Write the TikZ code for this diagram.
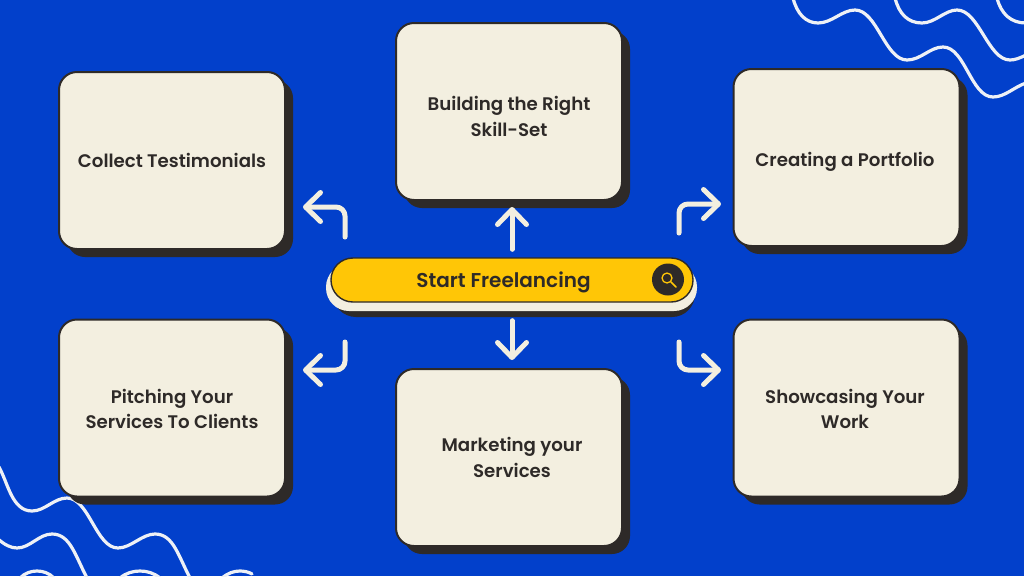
\documentclass[tikz,border=0pt]{standalone}
\usepackage{fontspec}
\setmainfont{Poppins}[BoldFont={Poppins SemiBold}]
\usetikzlibrary{arrows.meta,shadows}
\definecolor{bgblue}{HTML}{0240CB}
\definecolor{cream}{HTML}{F3EFE0}
\definecolor{ink}{HTML}{2E2A28}
\definecolor{gold}{HTML}{FFC606}
\definecolor{wave}{HTML}{EEF1F6}
\tikzset{
  card/.style={draw=ink,line width=2pt,fill=cream,rounded corners=18pt,
    minimum width=226pt,minimum height=177pt,inner sep=0pt,
    general shadow={fill=ink,shadow xshift=8pt,shadow yshift=-8pt}},
  cardtext/.style={text=ink,align=center,inner sep=0pt,font=\bfseries\fontsize{18.2}{25.5}\selectfont},
  flow/.style={draw=cream,line width=5pt,line cap=round,line join=round,rounded corners=9pt,
    -{Straight Barb[length=15pt,width=29pt,round,line width=5pt]}},
  squiggle/.style={draw=wave,line width=3.2pt,line cap=round},
  pill/.style={rounded corners=23pt},
}
\begin{document}
\begin{tikzpicture}[x=1pt,y=-1pt]
\useasboundingbox (0,0) rectangle (1024,576);
\fill[bgblue] (0,0) rectangle (1024,576);
% waves, upper right
\draw[squiggle] (793,-2) .. controls (797,14) and (806,23) .. (818,23) .. controls (832,23) and (842,10) .. (855,10) .. controls (877,10) and (885,60) .. (907,60) .. controls (921,60) and (930,47) .. (943,47) .. controls (965,47) and (971,97) .. (993,97) .. controls (1005,97) and (1014,87) .. (1026,83);
\draw[squiggle] (895,-2) .. controls (899,14) and (908,23) .. (922,23) .. controls (935,23) and (945,10) .. (957,10) .. controls (979,10) and (988,60) .. (1010,60) .. controls (1015,60) and (1020,58) .. (1026,55);
\draw[squiggle] (997,-2) .. controls (1001,14) and (1011,23) .. (1026,23);
% waves, lower left
\draw[squiggle] (-1,467) .. controls (8,483) and (12,511) .. (32,511) .. controls (45,511) and (54,498) .. (67,498) .. controls (89,498) and (96,548) .. (118,548) .. controls (131,548) and (142,534) .. (155,534) .. controls (173,534) and (178,555) .. (190,578);
\draw[squiggle] (-2,539) .. controls (5,545) and (11,548) .. (17,548) .. controls (30,548) and (39,534) .. (52,534) .. controls (70,534) and (75,555) .. (87,578);
\draw[squiggle] (20,578) .. controls (25,573) and (31,571) .. (37,571) .. controls (43,571) and (49,573) .. (54,578);
\draw[squiggle] (120,578) .. controls (126,573) and (133,571) .. (140,571) .. controls (147,571) and (154,573) .. (160,578);
\draw[squiggle] (222,578) .. controls (228,573) and (234,571) .. (240,571) .. controls (244,571) and (249,572) .. (252,574);
% cards
\node[card] (skill) at (509,111.5) {};
\node[card] (testi) at (172,160.5) {};
\node[card] (port) at (846.5,157.5) {};
\node[card] (pitch) at (172,408) {};
\node[card] (market) at (509,457.5) {};
\node[card] (show) at (846.5,408) {};
\node[cardtext] (skilltext) at (509,116.5) {Building the Right\\Skill-Set};
\node[cardtext] (testitext) at (172,160.5) {Collect Testimonials};
\node[cardtext] (porttext) at (845,162) {Creating a Portfolio};
\node[cardtext] (pitchtext) at (172,409) {Pitching Your\\Services To Clients};
\node[cardtext] (markettext) at (512,457.5) {Marketing your\\Services};
\node[cardtext] (showtext) at (845,409) {Showcasing Your\\Work};
% search bar
\fill[ink,pill] (333,271) rectangle (695,317);
\fill[cream,pill] (326,264) rectangle (697,311);
\node[draw=ink,line width=1.4pt,fill=gold,rounded corners=21.9pt,minimum width=362pt,minimum height=44pt,inner sep=0pt] (hub) at (512,280) {};
\node[text=ink,font=\bfseries\fontsize{20}{24}\selectfont,inner sep=0pt] (hubtext) at (503.5,282.5) {Start Freelancing};
\node[circle,fill=ink,minimum size=32pt,inner sep=0pt] (lens) at (668,279.5) {};
\draw[gold,line width=1.3pt] (667,278) circle (5pt);
\draw[gold,line width=1.5pt,line cap=round] (671,282) -- (676,287);
% arrows
\coordinate (tl) at (345,237);
\coordinate (tr) at (679,233);
\coordinate (bl) at (345,342);
\coordinate (br) at (679,342);
\draw[flow,shorten <=8pt,shorten >=6pt] (hub.north) -- (skill.south -| hub.north);
\draw[flow,shorten <=18pt,shorten >=8pt] (hub.south) -- (market.north -| hub.south);
\draw[flow] (tl) -- (345,207) -- (303,207);
\draw[flow] (tr) -- (679,204) -- (721,204);
\draw[flow] (bl) -- (345,370) -- (303,370);
\draw[flow] (br) -- (679,370) -- (721,370);
\end{tikzpicture}
\end{document}
